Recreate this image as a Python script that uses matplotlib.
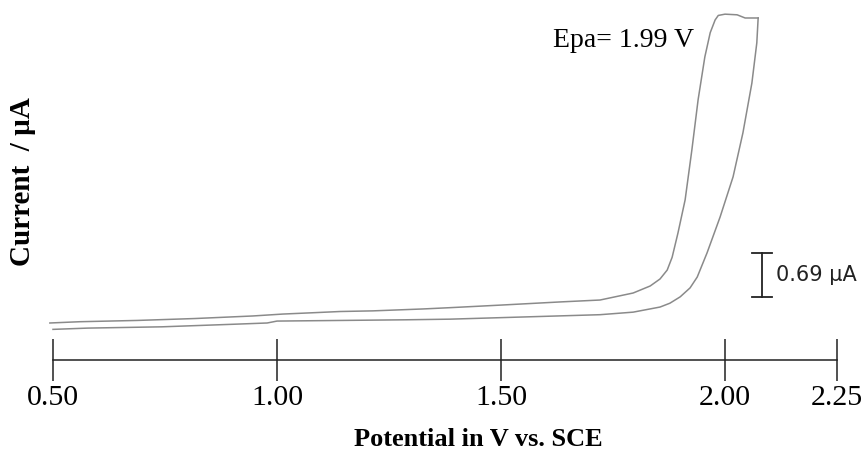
import matplotlib
matplotlib.use("Agg")
import matplotlib.pyplot as plt

# Forward (outer / lower) branch: potential (V) and current (µA)
fwd_E = [0.50, 0.578, 0.743, 0.902, 0.978, 1.000, 1.286, 1.386, 1.721, 1.795,
         1.855, 1.877, 1.900, 1.922, 1.938, 1.960, 1.989, 2.018, 2.040, 2.060,
         2.071, 2.074]
fwd_I = [0.01, 0.03, 0.05, 0.09, 0.11, 0.14, 0.16, 0.17, 0.24, 0.28,
         0.36, 0.42, 0.52, 0.66, 0.83, 1.21, 1.77, 2.40, 3.09, 3.87,
         4.50, 4.89]

# Reverse (inner / upper) branch
rev_E = [2.074, 2.045, 2.027, 2.000, 1.985, 1.978, 1.967, 1.955, 1.940, 1.926,
         1.911, 1.895, 1.882, 1.871, 1.855, 1.833, 1.795, 1.721, 1.632, 1.498,
         1.386, 1.326, 1.214, 1.141, 1.078, 1.013, 0.946, 0.817, 0.688, 0.560,
         0.493]
rev_I = [4.89, 4.89, 4.94, 4.95, 4.93, 4.86, 4.66, 4.28, 3.61, 2.82,
         2.04, 1.52, 1.14, 0.94, 0.80, 0.69, 0.58, 0.47, 0.44, 0.39,
         0.35, 0.33, 0.30, 0.29, 0.27, 0.25, 0.22, 0.18, 0.15, 0.13,
         0.11]

tick_values = [0.50, 1.00, 1.50, 2.00, 2.25]
tick_labels = ["0.50", "1.00", "1.50", "2.00", "2.25"]

scale_bar_value = 0.69      # µA
scale_bar_E = 2.083
scale_bar_I0 = 0.517
epa_label = "Epa= 1.99 V"

serif = ["Liberation Serif", "DejaVu Serif"]

fig = plt.figure(figsize=(8.67, 4.54), dpi=100)
ax = fig.add_axes([53 / 867, 94 / 454, 784 / 867, 360 / 454])
ax.set_xlim(0.5, 2.25)
ax.set_ylim(-0.470, 5.172)

line_color = "#8a8a8a"
ax.plot(fwd_E, fwd_I, color=line_color, lw=1.1, clip_on=False)
ax.plot(rev_E, rev_I, color=line_color, lw=1.1, clip_on=False)

for s in ["top", "left", "right"]:
    ax.spines[s].set_visible(False)
ax.spines["bottom"].set_linewidth(1.1)
ax.spines["bottom"].set_color("#222222")
ax.set_yticks([])
ax.set_xticks(tick_values)
ax.set_xticklabels(tick_labels, fontfamily=serif, fontsize=21.5)
ax.tick_params(axis="x", direction="inout", length=30, width=1.1,
               color="#222222", pad=3)

# scale bar
cap = 0.022
y1 = scale_bar_I0 + scale_bar_value
ax.plot([scale_bar_E, scale_bar_E], [scale_bar_I0, y1], color="#222222", lw=1.3)
ax.plot([scale_bar_E - cap, scale_bar_E + cap], [scale_bar_I0, scale_bar_I0],
        color="#222222", lw=1.3)
ax.plot([scale_bar_E - cap, scale_bar_E + cap], [y1, y1], color="#222222", lw=1.3)
ax.text(scale_bar_E + 0.031, scale_bar_I0 + scale_bar_value / 2,
        f"{scale_bar_value:.2f} µA", fontfamily="DejaVu Sans", fontsize=15,
        va="center", ha="left", color="#222222")

ax.text(1.616, 4.44, epa_label, fontfamily=serif, fontsize=20,
        va="baseline", ha="left")

fig.text(478 / 867, 8 / 454, "Potential in V vs. SCE", fontfamily=serif,
         fontsize=19, fontweight="bold", ha="center", va="baseline")
fig.text(23 / 867, 272 / 454, "Current  / µA", fontfamily=serif, fontsize=21,
         fontweight="bold", rotation=90, ha="center", va="center")

fig.savefig("out.png", dpi=100, facecolor="white")
